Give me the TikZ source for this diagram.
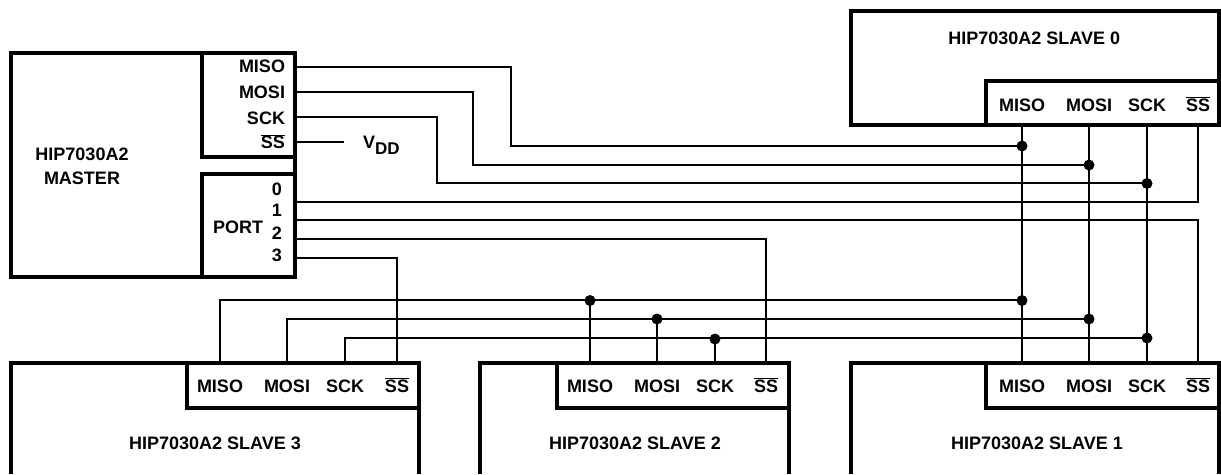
\documentclass[tikz,border=0pt]{standalone}
\usepackage{fontspec}
\setmainfont{Liberation Sans}
\newcommand{\pinbar}{$\overline{\mbox{\bfseries SS}}$}
\tikzset{
  x=1pt,y=-1pt,
  every node/.style={inner sep=0pt,outer sep=0pt,font=\fontsize{18}{20}\selectfont\bfseries},
  heavy/.style={draw=black,line width=4pt,line join=miter,line cap=butt},
  wire/.style={draw=black,line width=2pt,line join=miter},
  label/.style={anchor=base},
  rlabel/.style={anchor=base east},
  dot/.style={circle,fill=black,minimum size=11pt},
}
\begin{document}
\begin{tikzpicture}
\useasboundingbox (0,0) rectangle (1221,474);
% Master
\draw[heavy] (11,53) rectangle (295,277);
\draw[heavy] (295,157) -- (202,157) -- (202,53);
\draw[heavy] (295,174) -- (202,174) -- (202,277);
\node[label] (mt1) at (82,160.7) {HIP7030A2};
\node[label] (mt2) at (82,184) {MASTER};
\node[rlabel] (mmiso) at (285,72.7) {MISO};
\node[rlabel] (mmosi) at (285,98.7) {MOSI};
\node[rlabel] (msck) at (285,124) {SCK};
\node[rlabel] (mss) at (285,148.7) {\pinbar};
\node[rlabel] (p0) at (282,195) {0};
\node[rlabel] (p1) at (282,216.7) {1};
\node[rlabel] (p2) at (282,239) {2};
\node[rlabel] (p3) at (282,261.7) {3};
\node[label] (port) at (238,233) {PORT};
\node[anchor=base west] (vdd) at (363,148) {V\raisebox{-6.7pt}{\fontsize{17}{20}\selectfont DD}};
% Slave 0
\draw[heavy] (851,11) rectangle (1219,125);
\draw[heavy] (986,125) -- (986,81) -- (1219,81);
\node[label] (t0) at (1034.3,44) {HIP7030A2 SLAVE 0};
\node[label] (s0miso) at (1022,111) {MISO};
\node[label] (s0mosi) at (1089,111) {MOSI};
\node[label] (s0sck) at (1147,111) {SCK};
\node[label] (s0ss) at (1198,111) {\pinbar};
% Slave 1
\draw[heavy] (851,474) -- (851,363) -- (1219,363) -- (1219,474);
\draw[heavy] (986,363) -- (986,408) -- (1219,408);
\node[label] (t1) at (1037,449.3) {HIP7030A2 SLAVE 1};
\node[label] (s1miso) at (1022,392) {MISO};
\node[label] (s1mosi) at (1089,392) {MOSI};
\node[label] (s1sck) at (1147,392) {SCK};
\node[label] (s1ss) at (1198,392) {\pinbar};
% Slave 2
\draw[heavy] (480,474) -- (480,363) -- (789,363) -- (789,474);
\draw[heavy] (557,363) -- (557,408) -- (789,408);
\node[label] (t2) at (635,449.3) {HIP7030A2 SLAVE 2};
\node[label] (s2miso) at (590,392) {MISO};
\node[label] (s2mosi) at (657,392) {MOSI};
\node[label] (s2sck) at (715,392) {SCK};
\node[label] (s2ss) at (766,392) {\pinbar};
% Slave 3
\draw[heavy] (11,474) -- (11,363) -- (419,363) -- (419,474);
\draw[heavy] (187,363) -- (187,408) -- (419,408);
\node[label] (t3) at (215,449.3) {HIP7030A2 SLAVE 3};
\node[label] (s3miso) at (220,392) {MISO};
\node[label] (s3mosi) at (287,392) {MOSI};
\node[label] (s3sck) at (345,392) {SCK};
\node[label] (s3ss) at (397,392) {\pinbar};
% Dots
\node[dot] (d0a) at (1022,146) {};
\node[dot] (d0b) at (1089,165) {};
\node[dot] (d0c) at (1147,183.5) {};
\node[dot] (d1a) at (1022,300.5) {};
\node[dot] (d1b) at (1089,319) {};
\node[dot] (d1c) at (1147,338) {};
\node[dot] (d2a) at (590,300.5) {};
\node[dot] (d2b) at (657,319) {};
\node[dot] (d2c) at (715,339) {};
% Connection points on the box edges
\coordinate (omiso) at (297,67);
\coordinate (omosi) at (297,92);
\coordinate (osck) at (297,117);
\coordinate (oss) at (297,142);
\coordinate (ovdd) at (344,142);
\coordinate (op0) at (297,202);
\coordinate (op1) at (297,220);
\coordinate (op2) at (297,239);
\coordinate (op3) at (297,258);
\coordinate (a0miso) at (1022,125);
\coordinate (a0mosi) at (1089,125);
\coordinate (a0sck) at (1147,125);
\coordinate (a0ss) at (1198,125);
\coordinate (a1miso) at (1022,363);
\coordinate (a1mosi) at (1089,363);
\coordinate (a1sck) at (1147,363);
\coordinate (a1ss) at (1198,363);
\coordinate (a2miso) at (590,363);
\coordinate (a2mosi) at (657,363);
\coordinate (a2sck) at (715,363);
\coordinate (a2ss) at (766,363);
\coordinate (a3miso) at (220,363);
\coordinate (a3mosi) at (287,363);
\coordinate (a3sck) at (345,363);
\coordinate (a3ss) at (397,363);
% Wires
\draw[wire] (omiso) -- (511,67) -- (511,146) -- (1022,146);
\draw[wire] (omosi) -- (473,92) -- (473,165) -- (1089,165);
\draw[wire] (osck) -- (437,117) -- (437,183) -- (1147,183);
\draw[wire] (oss) -- (ovdd);
\draw[wire] (op0) -- (1198,202) -- (a0ss);
\draw[wire] (op1) -- (1198,220) -- (a1ss);
\draw[wire] (op2) -- (766,239) -- (a2ss);
\draw[wire] (op3) -- (397,258) -- (a3ss);
\draw[wire] (a0miso) -- (a1miso);
\draw[wire] (a0mosi) -- (a1mosi);
\draw[wire] (a0sck) -- (a1sck);
\draw[wire] (a3miso) -- (220,300) -- (1022,300);
\draw[wire] (a3mosi) -- (287,319) -- (1089,319);
\draw[wire] (a3sck) -- (345,338) -- (1147,338);
\draw[wire] (a2miso) -- (d2a.center);
\draw[wire] (a2mosi) -- (d2b.center);
\draw[wire] (a2sck) -- (d2c.center);
\end{tikzpicture}
\end{document}
